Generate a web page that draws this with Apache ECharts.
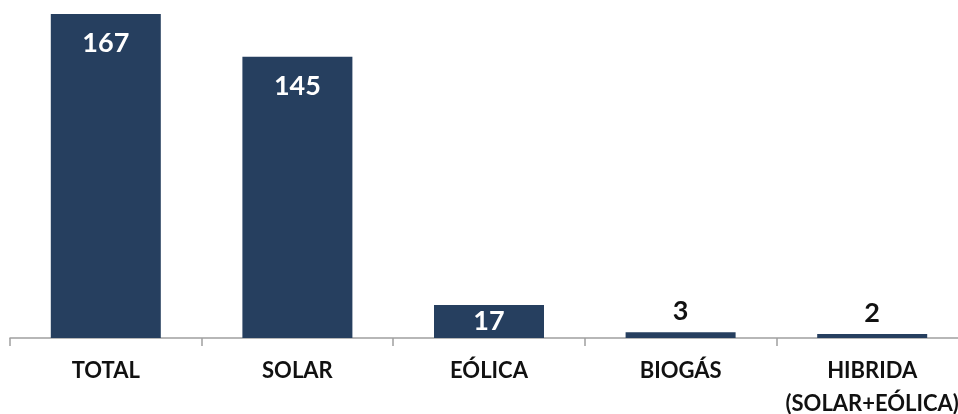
<!DOCTYPE html>
<html>
<head>
<meta charset="utf-8">
<script src="https://cdn.jsdelivr.net/npm/echarts@6/dist/echarts.min.js"></script>
<style>html,body{margin:0;padding:0;background:#fff;}#c{width:958px;height:414px;}</style>
</head>
<body>
<div id="c"></div>
<script>
const categories = ['TOTAL', 'SOLAR', 'EÓLICA', 'BIOGÁS', 'HIBRIDA\n(SOLAR+EÓLICA)'];
const values = [167, 145, 17, 3, 2];
const insideThreshold = 10;

const chart = echarts.init(document.getElementById('c'));
const data = values.map(v => {
  const inside = v >= insideThreshold;
  return {
    value: v,
    label: inside
      ? { position: 'insideTop', distance: v > 50 ? 16 : 3, color: '#ffffff' }
      : { position: 'top', distance: 7, color: '#111111' }
  };
});
chart.setOption({
  animation: false,
  grid: { left: 10, right: -10, top: 14, bottom: 76, containLabel: false, outerBoundsMode: 'none' },
  xAxis: {
    type: 'category',
    data: categories,
    axisLine: { lineStyle: { color: '#a0a0a0', width: 1.5 } },
    axisTick: { show: true, length: 8, lineStyle: { color: '#a0a0a0', width: 1.5 } },
    axisLabel: { margin: 16, color: '#111', fontFamily: 'Lato', fontWeight: 'bold', fontSize: 22, lineHeight: 33, interval: 0 }
  },
  yAxis: { type: 'value', min: 0, max: 167, show: false, splitLine: { show: false } },
  series: [{
    type: 'bar',
    data: data,
    barWidth: 110,
    itemStyle: { color: '#263f5f' },
    label: { show: true, fontFamily: 'Lato', fontWeight: 'bold', fontSize: 27 }
  }]
});
</script>
</body>
</html>
